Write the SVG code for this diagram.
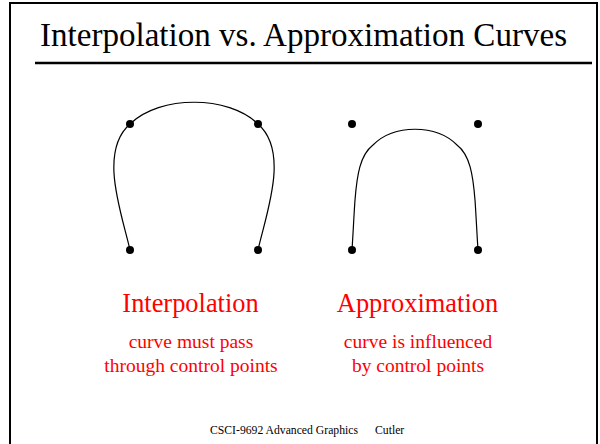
<svg xmlns="http://www.w3.org/2000/svg" width="600" height="444" viewBox="0 0 600 444">
<style>
text{font-family:'Liberation Serif','Times New Roman','DejaVu Serif',serif}
.red{fill:#ff0000}
.curve{fill:none;stroke:#000;stroke-width:1.2}
.pt{fill:#000}
</style>
<rect x="0" y="0" width="600" height="444" fill="#fff"/>
<rect x="10" y="3" width="587" height="460" fill="none" stroke="#000" stroke-width="2"/>
<text x="40" y="46" font-size="33" textLength="527" lengthAdjust="spacingAndGlyphs">Interpolation vs. Approximation Curves</text>
<line x1="35" y1="63" x2="592" y2="63" stroke="#000" stroke-width="2.5"/>
<g id="connectors">
<path class="curve" d="M130,250 C122,214 98,152 130,124 C160,95 228,95 258,124 C290,152 266,214 258,250"/>
<path class="curve" d="M352,250 C353,235 354,214 355,200 C357,175 360,155 373,145 C394,124 436,124 457,145 C470,155 473,175 475,200 C476,214 477,235 478,250"/>
</g>
<g id="interp-points">
<circle class="pt" cx="130" cy="124" r="4"/>
<circle class="pt" cx="258" cy="124" r="4"/>
<circle class="pt" cx="130" cy="250" r="4"/>
<circle class="pt" cx="258" cy="250" r="4"/>
</g>
<g id="approx-points">
<circle class="pt" cx="352" cy="124" r="4"/>
<circle class="pt" cx="478" cy="124" r="4"/>
<circle class="pt" cx="352" cy="250" r="4"/>
<circle class="pt" cx="478" cy="250" r="4"/>
</g>
<g id="interp-label" class="red" text-anchor="middle">
<text x="190.5" y="312" font-size="26.4">Interpolation</text>
<text x="191" y="348" font-size="19.5">curve must pass</text>
<text x="191" y="372" font-size="19.5">through control points</text>
</g>
<g id="approx-label" class="red" text-anchor="middle">
<text x="417.5" y="312" font-size="26.4">Approximation</text>
<text x="418" y="348" font-size="19.5">curve is influenced</text>
<text x="418" y="372" font-size="19.5">by control points</text>
</g>
<g id="footer" font-size="11.7">
<text x="210" y="434">CSCI-9692 Advanced Graphics</text>
<text x="375" y="434">Cutler</text>
</g>
</svg>
